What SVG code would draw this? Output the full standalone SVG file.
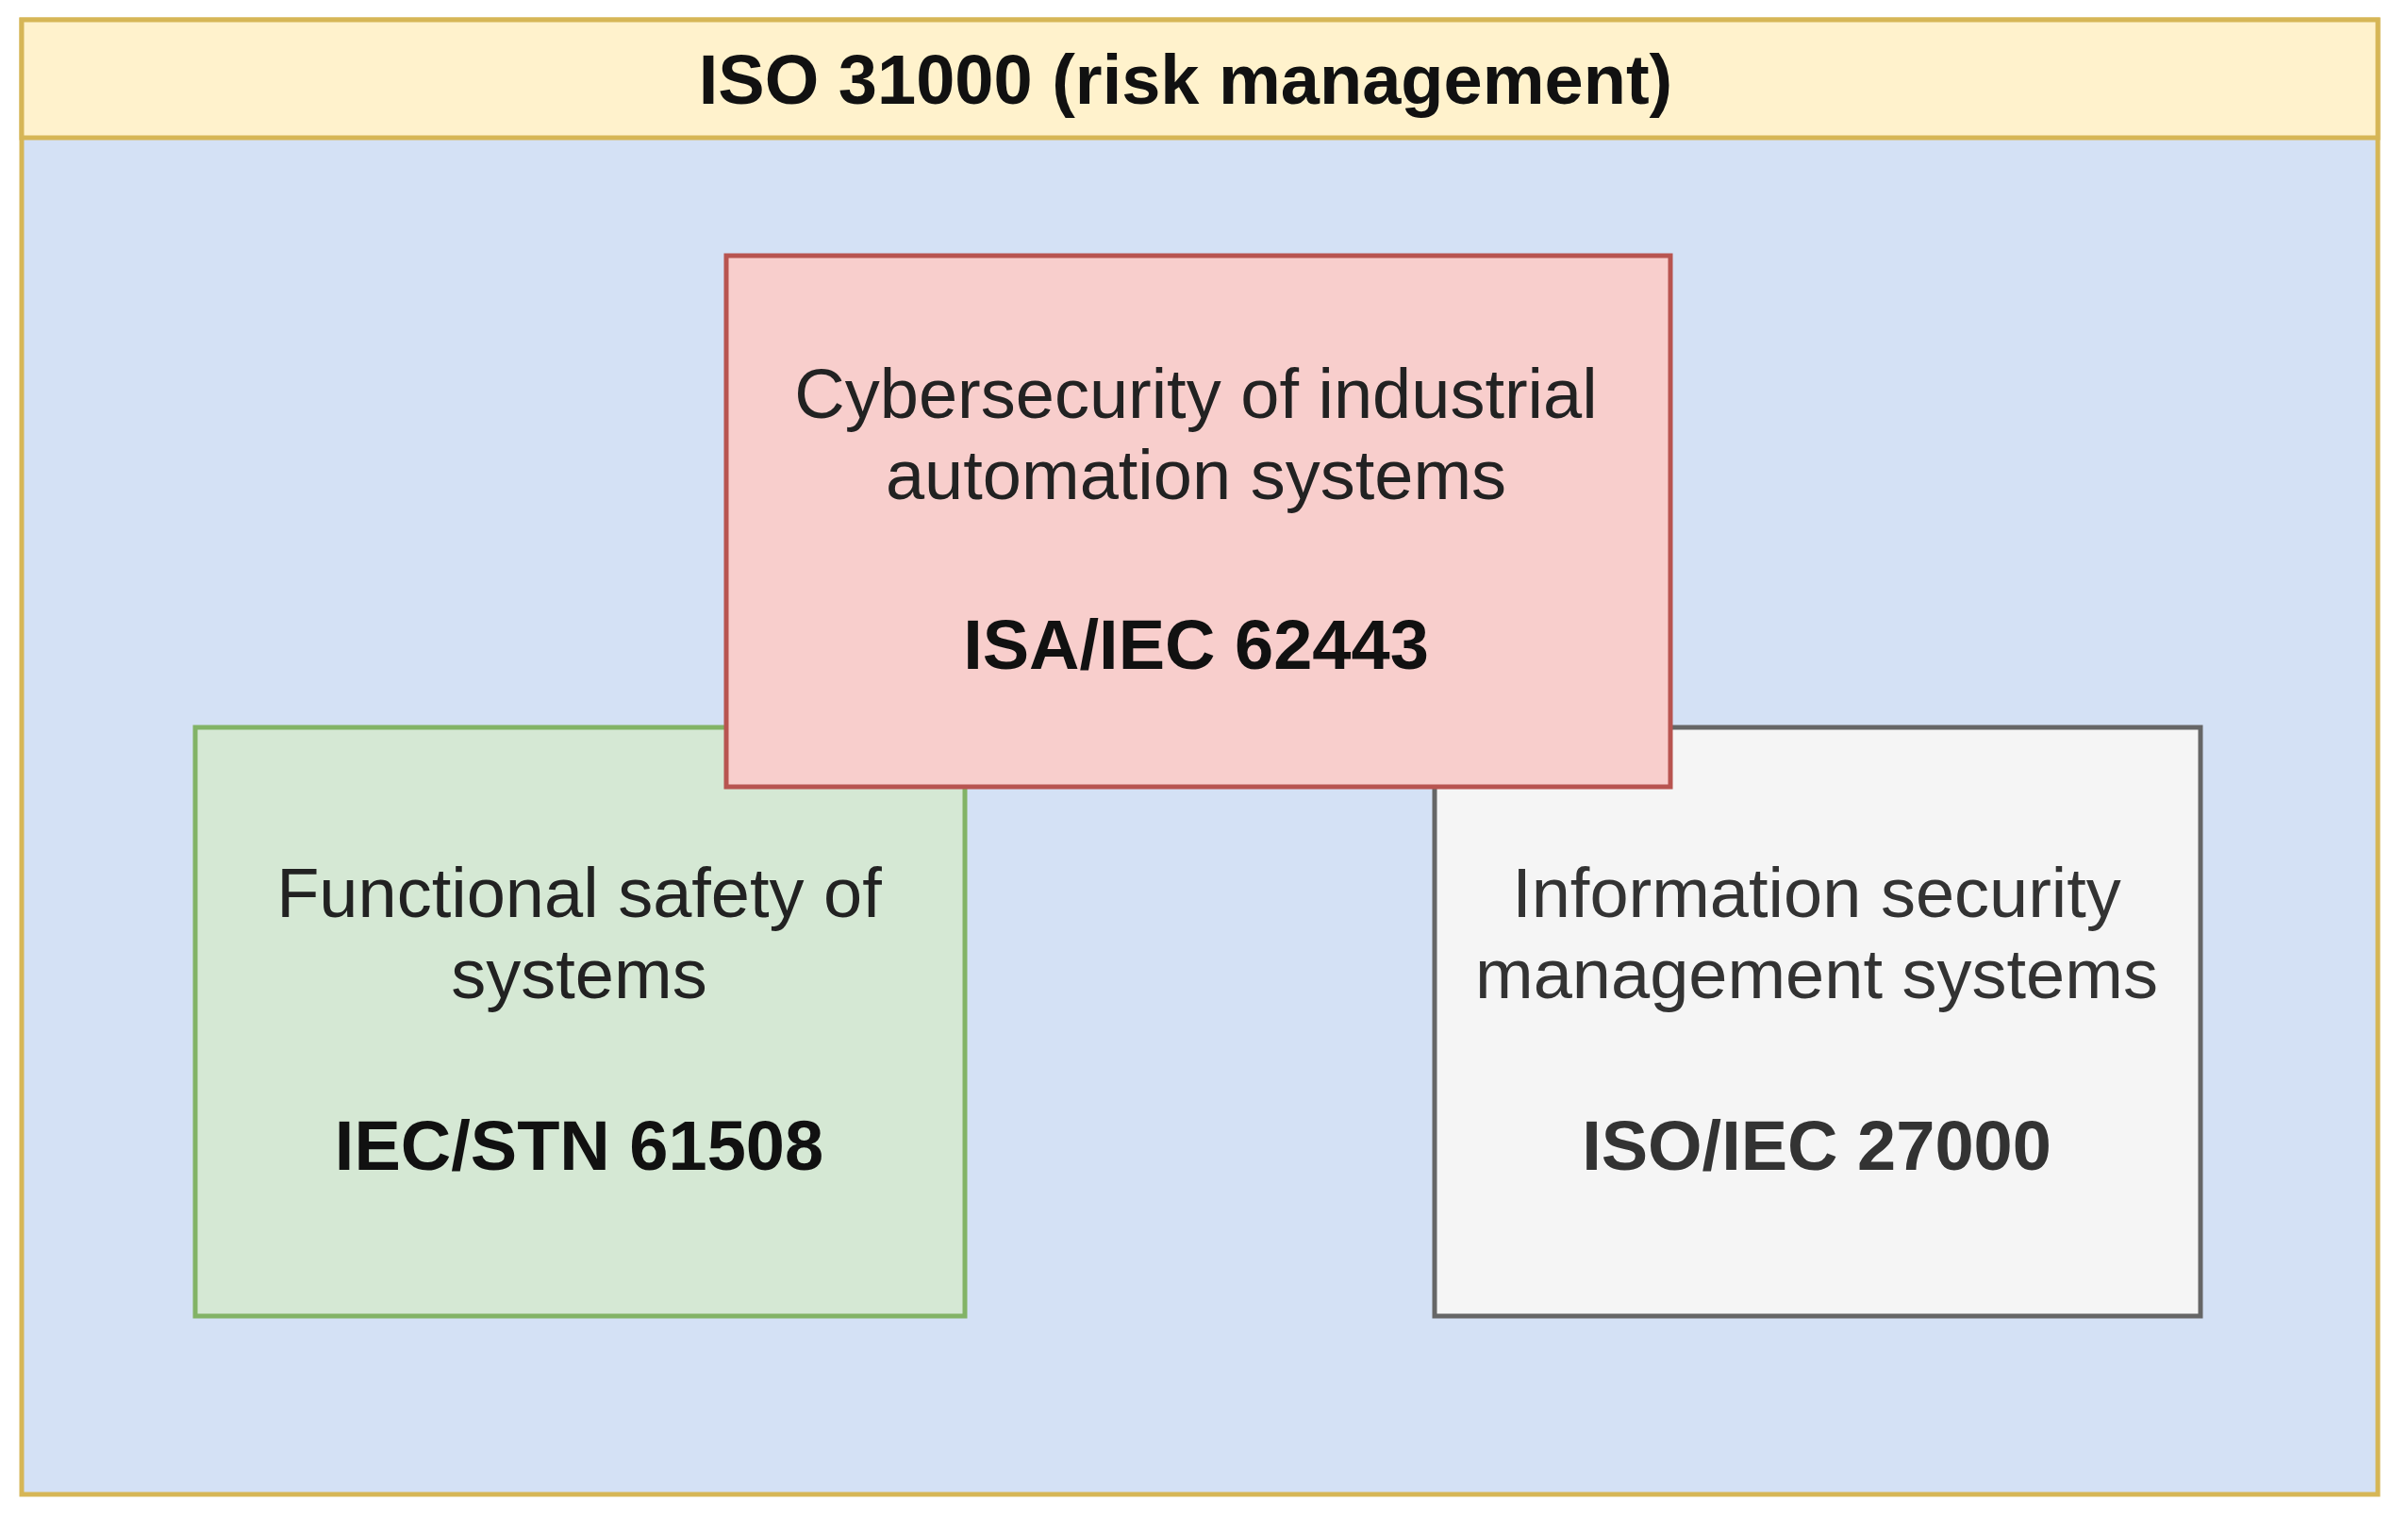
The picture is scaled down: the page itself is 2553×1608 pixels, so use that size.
<svg xmlns="http://www.w3.org/2000/svg" width="2553" height="1608" viewBox="0 0 2553 1608">
<style>
.t{font-family:"Liberation Sans",Arial,sans-serif;font-size:74px;text-anchor:middle}
.b{font-weight:bold}
.box{stroke-width:5}
</style>
<rect width="2553" height="1608" fill="#ffffff"/>
<g id="iso31000">
<rect x="23" y="21" width="2498" height="1563" fill="#d4e1f5" stroke="#d6b656" stroke-width="5"/>
<rect x="23" y="21" width="2498" height="125" fill="#fff2cc" stroke="#d6b656" stroke-width="5"/>
<text class="t b" x="1257" y="110" fill="#111111">ISO 31000 (risk management)</text>
</g>
<g id="iec61508">
<rect class="box" x="207" y="771" width="816" height="624" fill="#d5e8d4" stroke="#82b366"/>
<text class="t" x="614" y="972" fill="#222222">Functional safety of</text>
<text class="t" x="614" y="1058" fill="#222222">systems</text>
<text class="t b" x="614" y="1240" fill="#111111">IEC/STN 61508</text>
</g>
<g id="iso27000">
<rect class="box" x="1521" y="771" width="812" height="624" fill="#f5f5f5" stroke="#666666"/>
<text class="t" x="1926" y="972" fill="#333333">Information security</text>
<text class="t" x="1926" y="1058" fill="#333333">management systems</text>
<text class="t b" x="1926" y="1240" fill="#333333">ISO/IEC 27000</text>
</g>
<g id="isa62443">
<rect class="box" x="770" y="271" width="1001" height="563" fill="#f8cecc" stroke="#b85450"/>
<text class="t" x="1268" y="443" fill="#222222">Cybersecurity of industrial</text>
<text class="t" x="1268" y="529" fill="#222222">automation systems</text>
<text class="t b" x="1268" y="709" fill="#111111">ISA/IEC 62443</text>
</g>
<g id="connectors"></g>
</svg>
